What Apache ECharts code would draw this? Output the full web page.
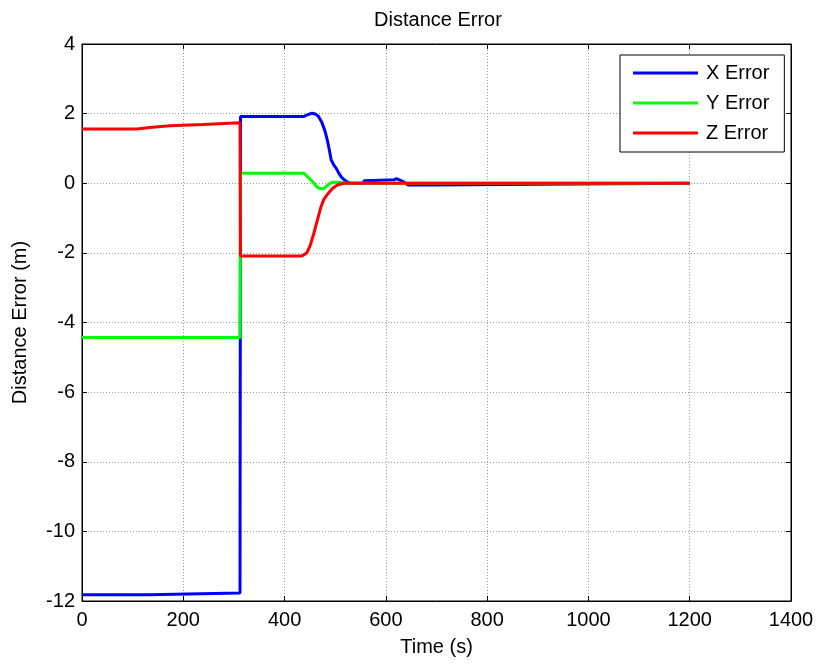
<!DOCTYPE html>
<html><head><meta charset="utf-8">
<script src="https://cdn.jsdelivr.net/npm/echarts@6/dist/echarts.min.js"></script>
<style>html,body{margin:0;padding:0;background:#fff}#c{width:817px;height:664px}</style>
</head><body><div id="c"></div>
<script>
// Data
const xTime = [0,133,134,312,313,438,446,454,462,467,473,480,485,489,492,497,502,507,513,522,530,556,557,576,616,621,634,644,693,695,1200];
const xErr  = [-11.82,-11.82,-11.77,-11.77,1.92,1.92,1.97,2.01,1.98,1.92,1.77,1.49,1.20,0.91,0.67,0.53,0.43,0.29,0.16,0.05,0,0,0.07,0.08,0.1,0.13,0.05,-0.05,-0.05,0,0];
const yTime = [0,312,313,438,455,465,472,478,488,495,510,520,1200];
const yErr  = [-4.43,-4.43,0.29,0.29,0.05,-0.12,-0.16,-0.15,-0.02,0.03,0.03,0,0];
const zTime = [0,108,109,134,135,173,174,239,240,312,313,434,444,451,457,464,471,477,484,494,504,517,1200];
const zErr  = [1.56,1.56,1.6,1.6,1.65,1.65,1.69,1.69,1.74,1.74,-2.09,-2.09,-2.0,-1.77,-1.48,-1.10,-0.72,-0.48,-0.33,-0.16,-0.05,0,0];
const xTicks = [0,200,400,600,800,1000,1200,1400];
const yTicks = [-12,-10,-8,-6,-4,-2,0,2,4];
const seriesNames = ['X Error','Y Error','Z Error'];

const pairs = (t,v) => t.map((x,i)=>[x,v[i]]);
const font = 'Liberation Sans, Arial, sans-serif';
const chart = echarts.init(document.getElementById('c'));
const gridLine = {show:true, lineStyle:{color:'#9a9a9a', type:[1,2], width:1}};
const tick = {show:true, inside:true, length:5, lineStyle:{color:'#000'}};
const plain = v => String(v);
chart.setOption({
  animation:false,
  backgroundColor:'#fff',
  title:{text:'Distance Error', left:433, top:5, textAlign:'center',
    textStyle:{fontFamily:font, fontSize:20, fontWeight:'normal', color:'#000'}},
  grid:{left:82, right:26, top:44, bottom:63, show:true, borderColor:'#000', borderWidth:1},
  legend:{orient:'vertical', left:620, top:55, padding:[8,15,9,13], itemGap:10,
    itemWidth:65, itemHeight:3, icon:'rect', backgroundColor:'#fff', borderColor:'#000', borderWidth:1,
    textStyle:{fontFamily:font, fontSize:20, color:'#000', lineHeight:20, padding:[0,0,0,3]},
    data:seriesNames},
  xAxis:[{type:'value', min:0, max:1400, interval:200,
    name:'Time (s)', nameLocation:'middle', nameGap:36,
    nameTextStyle:{fontFamily:font, fontSize:20, color:'#000'},
    axisLine:{show:true, onZero:false, lineStyle:{color:'#000'}},
    axisTick:tick,
    axisLabel:{fontFamily:font, fontSize:20, color:'#000', margin:9, formatter:plain},
    splitLine:gridLine},
    {type:'value', position:'top', min:0, max:1400, interval:200,
    axisLine:{show:true, onZero:false, lineStyle:{color:'#000'}},
    axisTick:tick, axisLabel:{show:false}, splitLine:{show:false}}],
  yAxis:[{type:'value', min:-12, max:4, interval:2,
    name:'Distance Error (m)', nameLocation:'middle', nameGap:52,
    nameTextStyle:{fontFamily:font, fontSize:20, color:'#000'},
    axisLine:{show:true, onZero:false, lineStyle:{color:'#000'}},
    axisTick:tick,
    axisLabel:{fontFamily:font, fontSize:20, color:'#000', margin:7, formatter:plain},
    splitLine:gridLine},
    {type:'value', position:'right', min:-12, max:4, interval:2,
    axisLine:{show:true, onZero:false, lineStyle:{color:'#000'}},
    axisTick:tick, axisLabel:{show:false}, splitLine:{show:false}}],
  series:[
    {name:seriesNames[0], type:'line', symbol:'none', data:pairs(xTime,xErr), color:'#0000ff', itemStyle:{color:'#0000ff'}, lineStyle:{width:3, color:'#0000ff'}},
    {name:seriesNames[1], type:'line', symbol:'none', data:pairs(yTime,yErr), color:'#00ff00', itemStyle:{color:'#00ff00'}, lineStyle:{width:3, color:'#00ff00'}},
    {name:seriesNames[2], type:'line', symbol:'none', data:pairs(zTime,zErr), color:'#ff0000', itemStyle:{color:'#ff0000'}, lineStyle:{width:3, color:'#ff0000'}}
  ]
});
</script></body></html>
